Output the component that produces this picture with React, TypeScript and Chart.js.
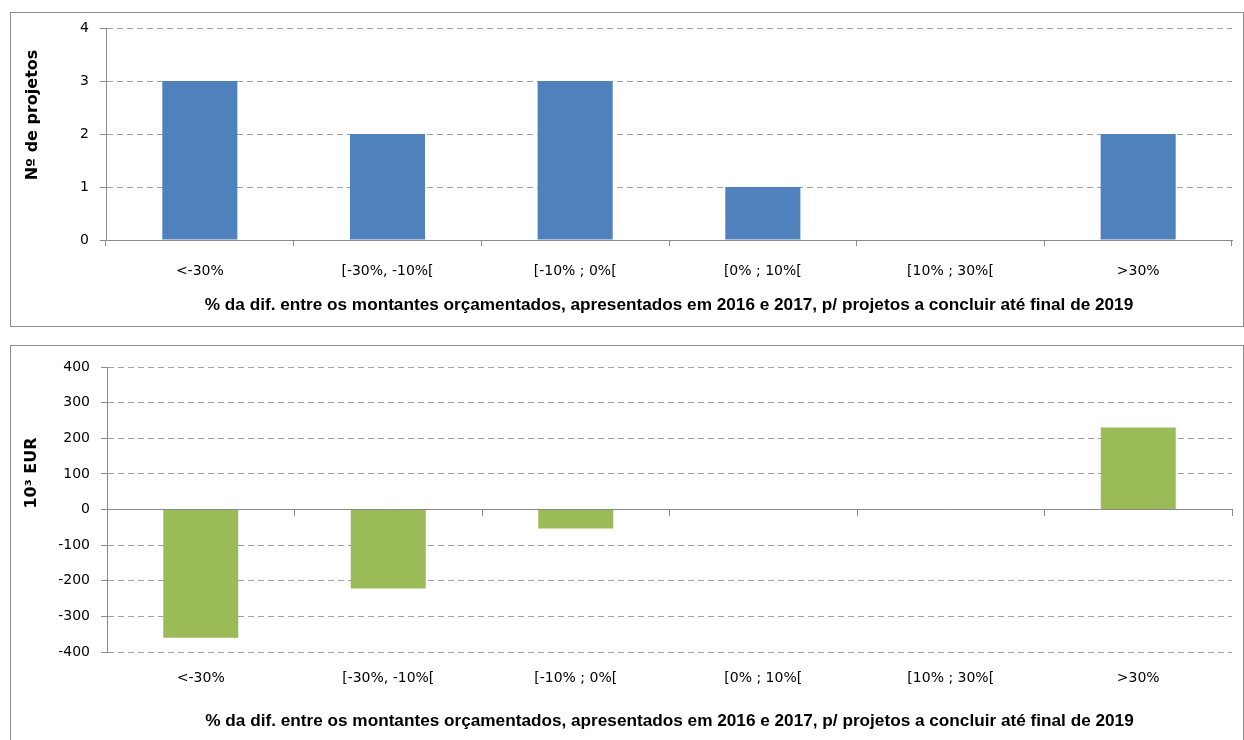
import React, { useEffect, useRef } from "react";
import { Chart, registerables } from "chart.js";

Chart.register(...registerables);

// ---- data ----
const categories = ["<-30%", "[-30%, -10%[", "[-10% ; 0%[", "[0% ; 10%[", "[10% ; 30%[", ">30%"];
const projectCounts = [3, 2, 3, 1, 0, 2];
const amountDiff = [-360, -222, -53, 0, 0, 230];
const countAxis = { min: 0, max: 4, step: 1 };
const amountAxis = { min: -400, max: 400, step: 100 };
const xTitle =
  "% da dif. entre os montantes orçamentados, apresentados em 2016 e 2017, p/ projetos a concluir até final de 2019";
const countTitle = "Nº de projetos";
const amountTitle = "10³ EUR";

// ---- styles ----
const BLUE = "#4F81BD";
const GREEN = "#9BBB59";
const AXIS = "#8a8a8a";
const GRID = "#a0a0a0";
const TICK_FONT = { family: "'DejaVu Sans', sans-serif", size: 14 };
const X_TITLE_FONT = { family: "'Liberation Sans Narrow', 'Liberation Sans', sans-serif", size: 17.2, weight: "bold" as const };
const Y_TITLE_FONT = "bold 16px 'DejaVu Sans', sans-serif";

const sideTitle = {
  id: "sideTitle",
  afterDraw(chart: any, _args: any, opts: any) {
    if (!opts || !opts.text) return;
    const ctx = chart.ctx;
    ctx.save();
    ctx.translate(opts.x, opts.y);
    ctx.rotate(-Math.PI / 2);
    ctx.font = opts.font;
    ctx.fillStyle = "#000";
    ctx.textAlign = "center";
    ctx.textBaseline = "middle";
    ctx.fillText(opts.text, 0, 0);
    ctx.restore();
  },
};

const yGrid = {
  color: (c: any) => (c.tick && c.tick.value === 0 ? "rgba(0,0,0,0)" : GRID),
  drawTicks: true,
  tickLength: 6,
  tickColor: AXIS,
  tickBorderDash: [],
};

function fixY(width: number) {
  return (s: any) => {
    s.width = width;
    s.paddingTop = 0;
    s.paddingBottom = 0;
  };
}

function topConfig(): any {
  return {
    type: "bar",
    data: {
      labels: categories,
      datasets: [
        {
          data: projectCounts,
          backgroundColor: BLUE,
          borderWidth: 0,
          barPercentage: 0.4,
          categoryPercentage: 1,
        },
      ],
    },
    plugins: [sideTitle],
    options: {
      animation: false,
      responsive: false,
      maintainAspectRatio: false,
      layout: { padding: { top: 15, right: 11, left: 0, bottom: 0 } },
      plugins: {
        legend: { display: false },
        tooltip: { enabled: false },
        sideTitle: { text: countTitle, x: 22, y: 102, font: Y_TITLE_FONT },
      },
      scales: {
        x: {
          type: "category",
          offset: true,
          grid: { display: true, drawOnChartArea: false, drawTicks: true, tickLength: 6, offset: true, color: AXIS },
          border: { display: true, color: AXIS, width: 1 },
          ticks: { color: "#000", font: TICK_FONT, padding: 17, maxRotation: 0, autoSkip: false },
          title: { display: true, text: xTitle, font: X_TITLE_FONT, color: "#000", padding: { top: 0, bottom: 10 } },
          afterFit(s: any) {
            s.height = 86;
          },
        },
        y: {
          min: countAxis.min,
          max: countAxis.max,
          ticks: { stepSize: countAxis.step, color: "#000", font: TICK_FONT, padding: 11 },
          grid: yGrid,
          border: { display: true, color: AXIS, dash: [6, 4] },
          afterFit: fixY(95),
        },
      },
    },
  };
}

function bottomConfig(): any {
  return {
    type: "bar",
    data: {
      labels: categories,
      datasets: [
        {
          data: amountDiff,
          backgroundColor: GREEN,
          borderWidth: 0,
          barPercentage: 0.4,
          categoryPercentage: 1,
          xAxisID: "x",
        },
      ],
    },
    plugins: [sideTitle],
    options: {
      animation: false,
      responsive: false,
      maintainAspectRatio: false,
      layout: { padding: { top: 21, right: 11, left: 0, bottom: 0 } },
      plugins: {
        legend: { display: false },
        tooltip: { enabled: false },
        sideTitle: { text: amountTitle, x: 21, y: 127, font: Y_TITLE_FONT },
      },
      scales: {
        x: {
          type: "category",
          position: { y: 0 },
          offset: true,
          grid: { display: true, drawOnChartArea: false, drawTicks: true, tickLength: 6, offset: true, color: AXIS },
          border: { display: true, color: AXIS, width: 1 },
          ticks: { display: false },
        },
        x2: {
          type: "category",
          labels: categories,
          position: "bottom",
          offset: true,
          grid: { display: false, drawTicks: false },
          border: { display: false },
          ticks: { color: "#000", font: TICK_FONT, padding: 18, maxRotation: 0, autoSkip: false },
          title: { display: true, text: xTitle, font: X_TITLE_FONT, color: "#000", padding: { top: 0, bottom: 12 } },
          afterFit(s: any) {
            s.height = 92;
          },
        },
        y: {
          min: amountAxis.min,
          max: amountAxis.max,
          ticks: { stepSize: amountAxis.step, color: "#000", font: TICK_FONT, padding: 11 },
          grid: yGrid,
          border: { display: true, color: AXIS, dash: [6, 4] },
          afterFit: fixY(96),
        },
      },
    },
  };
}

function Panel(props: { top: number; height: number; make: () => any }) {
  const ref = useRef<HTMLCanvasElement | null>(null);
  useEffect(() => {
    if (!ref.current) return;
    const chart = new Chart(ref.current, props.make());
    return () => chart.destroy();
  }, []);
  return (
    <div
      style={{
        position: "absolute",
        left: 10,
        top: props.top,
        width: 1234,
        height: props.height,
        border: "1px solid #8c8c8c",
        boxSizing: "border-box",
        background: "#fff",
      }}
    >
      <canvas ref={ref} width={1232} height={props.height - 2} style={{ display: "block", width: 1232, height: props.height - 2 }} />
    </div>
  );
}

export default function App() {
  return (
    <div>
      <Panel top={12} height={315} make={topConfig} />
      <Panel top={345} height={400} make={bottomConfig} />
    </div>
  );
}
